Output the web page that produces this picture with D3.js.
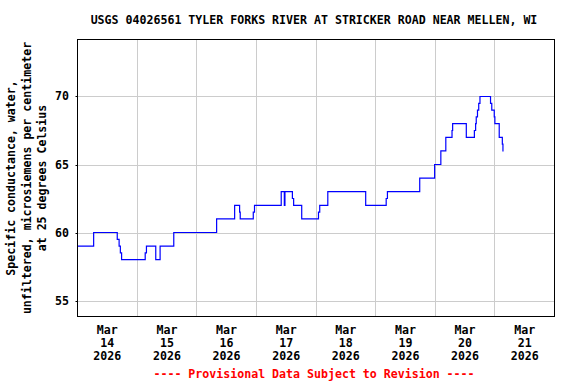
<!DOCTYPE html>
<html><head><meta charset="utf-8">
<script src="https://cdn.jsdelivr.net/npm/d3@7"></script>
<style>body{margin:0;background:#fff}svg{display:block}text{font-family:"DejaVu Sans Mono",monospace;font-weight:bold;font-size:11.6px}</style>
</head><body>
<svg id="c" width="576" height="384"></svg>
<script>
const title = "USGS 04026561 TYLER FORKS RIVER AT STRICKER ROAD NEAR MELLEN, WI";
const yLabelLines = ["Specific conductance, water,", "unfiltered, microsiemens per centimeter", "at 25 degrees Celsius"];
const footnote = "---- Provisional Data Subject to Revision ----";
const yTicks = [55, 60, 65, 70];
const xTickDays = ["2026-03-14","2026-03-15","2026-03-16","2026-03-17","2026-03-18","2026-03-19","2026-03-20","2026-03-21"];
const times = [
 "2026-03-14T00:00","2026-03-14T06:30","2026-03-14T16:00","2026-03-14T16:45","2026-03-14T17:15","2026-03-14T17:45",
 "2026-03-15T03:15","2026-03-15T03:45","2026-03-15T07:30","2026-03-15T09:15","2026-03-15T14:45",
 "2026-03-16T08:00","2026-03-16T15:15","2026-03-16T17:15","2026-03-16T17:30","2026-03-16T22:45","2026-03-16T23:15",
 "2026-03-17T10:00","2026-03-17T11:15","2026-03-17T11:30","2026-03-17T14:30","2026-03-17T15:00","2026-03-17T18:15",
 "2026-03-18T01:00","2026-03-18T01:30","2026-03-18T04:45","2026-03-18T20:00",
 "2026-03-19T04:15","2026-03-19T04:45","2026-03-19T17:45","2026-03-19T23:45",
 "2026-03-20T02:15","2026-03-20T04:15","2026-03-20T06:45","2026-03-20T07:00","2026-03-20T12:30","2026-03-20T15:45",
 "2026-03-20T16:15","2026-03-20T16:30","2026-03-20T17:00","2026-03-20T17:30","2026-03-20T18:00","2026-03-20T22:15",
 "2026-03-20T22:45","2026-03-20T23:45","2026-03-21T00:00","2026-03-21T01:45","2026-03-21T03:00","2026-03-21T03:15","2026-03-21T03:30"
];
const values = [
 59,60,59.5,59,58.5,58,
 58.5,59,58,59,60,
 61,62,61.5,61,61.5,62,
 63,62,63,62.5,62,61,
 61.5,62,63,62,
 62.5,63,64,65,
 66,67,67.5,68,67,67.5,
 68,68.5,69,69.5,70,69.5,
 69,68.5,68,67,66.5,66,66
];

const parse = d3.utcParse("%Y-%m-%dT%H:%M");
const parseDay = d3.utcParse("%Y-%m-%d");
const data = times.map((t,i)=>({t:parse(t), v:values[i]}));

const L=77.5, R=554.5, T=39.5, B=316.5;
const x = d3.scaleUtc().domain([parseDay("2026-03-14"), parseDay("2026-03-22")]).range([L,R]);
const y = d3.scaleLinear().domain([53.824, 74.191]).range([B,T]);

const svg = d3.select("#c");

// gridlines
const g = svg.append("g");
g.selectAll("line.gy").data(yTicks).join("line")
  .attr("x1",L).attr("x2",R).attr("y1",d=>Math.round(y(d))+0.5).attr("y2",d=>Math.round(y(d))+0.5)
  .attr("stroke","#cccccc").attr("stroke-width",1);
const dayLines = d3.utcDay.range(parseDay("2026-03-15"), parseDay("2026-03-22"));
g.selectAll("line.gx").data(dayLines).join("line")
  .attr("x1",d=>Math.round(x(d)-0.5)+0.5).attr("x2",d=>Math.round(x(d)-0.5)+0.5).attr("y1",T).attr("y2",B)
  .attr("stroke","#cccccc").attr("stroke-width",1);

// y ticks (short outside marks) + labels
svg.selectAll("line.yt").data(yTicks).join("line")
  .attr("x1",L-2).attr("x2",L).attr("y1",d=>Math.round(y(d))+0.5).attr("y2",d=>Math.round(y(d))+0.5)
  .attr("stroke","#000");
svg.selectAll("text.yl").data(yTicks).join("text")
  .attr("x",69).attr("y",d=>y(d)+4).attr("text-anchor","end").text(d=>d);

// data line
const line = d3.line().x(d=>x(d.t)).y(d=>y(d.v)).curve(d3.curveStepAfter);
svg.append("path").datum(data).attr("d",line).attr("fill","none").attr("stroke","#0000ff").attr("stroke-width",1.2);

// frame
svg.append("rect").attr("x",L).attr("y",T).attr("width",R-L).attr("height",B-T)
  .attr("fill","none").attr("stroke","#000").attr("stroke-width",1);

// x tick labels at noon
const fmtM = d3.utcFormat("%b"), fmtD = d3.utcFormat("%-d"), fmtY = d3.utcFormat("%Y");
const xt = svg.selectAll("g.xt").data(xTickDays.map(parseDay)).join("g")
  .attr("transform",d=>`translate(${x(d3.utcHour.offset(d,12))},0)`);
xt.append("text").attr("y",334).attr("text-anchor","middle").text(fmtM);
xt.append("text").attr("y",347).attr("text-anchor","middle").text(fmtD);
xt.append("text").attr("y",360).attr("text-anchor","middle").text(fmtY);

// title
svg.append("text").attr("x",314).attr("y",24).attr("text-anchor","middle").text(title);

// y label
const yl = svg.append("g").attr("transform",`translate(0,${(T+B)/2}) rotate(-90)`);
const bl = [15, 30.5, 46];
yl.selectAll("text").data(yLabelLines).join("text")
  .attr("x",0).attr("y",(d,i)=>bl[i]).attr("text-anchor","middle").text(d=>d);

// footnote
svg.append("text").attr("x",314).attr("y",378).attr("text-anchor","middle").attr("fill","#ff0000").text(footnote);
</script>
</body></html>
